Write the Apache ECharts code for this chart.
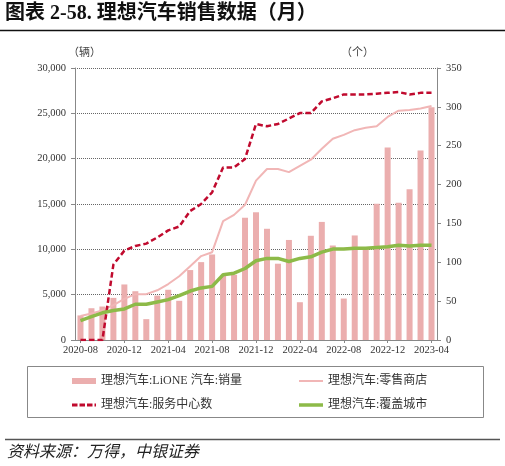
<!DOCTYPE html>
<html>
<head>
<meta charset="utf-8">
<script src="https://cdn.jsdelivr.net/npm/echarts@6/dist/echarts.min.js"></script>
<style>
html,body{margin:0;padding:0;background:#fff;}
#chart{width:505px;height:466px;}
</style>
</head>
<body>
<div id="chart"></div>
<script>
var months = ['2020-08','2020-09','2020-10','2020-11','2020-12','2021-01','2021-02','2021-03','2021-04','2021-05','2021-06','2021-07','2021-08','2021-09','2021-10','2021-11','2021-12','2022-01','2022-02','2022-03','2022-04','2022-05','2022-06','2022-07','2022-08','2022-09','2022-10','2022-11','2022-12','2023-01','2023-02','2023-03','2023-04'];
var sales = [2711,3504,3692,4646,6126,5379,2300,4900,5539,4323,7713,8589,9433,7094,7200,13485,14087,12268,8414,11034,4167,11496,13024,10422,4571,11531,10052,15034,21233,15141,16620,20906,25681];
var retailStores = [31,34,38,45,53,59,59,64,72,82,95,108,113,153,161,174,205,220,220,216,224,232,246,259,264,270,273,275,287,295,296,298,301];
var serviceCenters = [0,0,0,97,115,121,124,132,141,146,166,175,190,222,222,233,278,275,278,285,292,292,307,311,316,316,316,317,318,319,316,318,318];
var coveredCities = [25,30,35,38,40,46,46,49,52,57,63,67,69,84,86,92,102,105,105,101,105,107,113,117,117,118,118,119,120,122,121,122,122];
var leftTicks = {min:0, max:30000, interval:5000};
var rightTicks = {min:0, max:350, interval:50};
var names = ['理想汽车:LiONE 汽车:销量','理想汽车:零售商店','理想汽车:服务中心数','理想汽车:覆盖城市'];

var serif = "'Liberation Serif','Noto Sans CJK SC'";
var colors = {bar:'#EBAEAE', retail:'#F1B6B6', service:'#C00A2E', cities:'#8DBA48'};
var icons = [
  'path://M0,0h24v6h-24z',
  'path://M0,0h24v2h-24z',
  'path://M0,0h5.5v3h-5.5z M7.5,0h5.5v3h-5.5z M15,0h5.5v3h-5.5z M22.5,0h1.5v3h-1.5z',
  'path://M0,0h24v3.5h-24z'
];
var iconColors = [colors.bar, colors.retail, colors.service, colors.cities];
var chart = echarts.init(document.getElementById('chart'), null, {renderer:'canvas'});
function legendAt(i, left, top){
  return {data:[{name:names[i], icon:icons[i], itemStyle:{color:iconColors[i]}}], left:left, top:top,
    itemWidth:24, itemHeight:6, itemGap:10, symbolKeepAspect:true,
    textStyle:{fontFamily:serif, fontSize:12, color:'#333', lineHeight:14}, padding:0};
}
var option = {
  animation:false,
  backgroundColor:'#fff',
  title:{text:'图表 2-58. 理想汽车销售数据（月）', left:5, top:4,
    textStyle:{fontFamily:serif, fontSize:20, fontWeight:'bold', color:'#111'}, padding:0},
  grid:{left:75, right:68, top:68, bottom:126, containLabel:false},
  legend:[
    legendAt(0, 72, 374),
    legendAt(1, 299, 374),
    legendAt(2, 72, 398),
    legendAt(3, 299, 398)
  ],
  xAxis:{type:'category', data:months, boundaryGap:true,
    axisLine:{lineStyle:{color:'#888', width:1}},
    axisTick:{show:true, alignWithLabel:true, interval:3, length:3, lineStyle:{color:'#888'}},
    axisLabel:{interval:3, fontFamily:serif, fontSize:10.5, color:'#333', margin:5}},
  yAxis:[
    {type:'value', min:leftTicks.min, max:leftTicks.max, interval:leftTicks.interval, position:'left',
      axisLine:{show:true, lineStyle:{color:'#888'}},
      axisTick:{show:true, length:4, lineStyle:{color:'#888'}},
      axisLabel:{fontFamily:serif, fontSize:10.5, color:'#333', margin:9,
        formatter:function(v){return v.toLocaleString('en-US');}},
      splitLine:{show:true, lineStyle:{color:'#666', type:[1,1], width:1}}},
    {type:'value', min:rightTicks.min, max:rightTicks.max, interval:rightTicks.interval, position:'right',
      axisLine:{show:true, lineStyle:{color:'#888'}},
      axisTick:{show:true, length:4, lineStyle:{color:'#888'}},
      axisLabel:{fontFamily:serif, fontSize:10.5, color:'#333', margin:9},
      splitLine:{show:false}}
  ],
  series:[
    {name:names[0], type:'bar', yAxisIndex:0, data:sales, barWidth:6,
      itemStyle:{color:colors.bar}},
    {name:names[1], type:'line', yAxisIndex:1, data:retailStores, symbol:'none',
      lineStyle:{color:colors.retail, width:2}, itemStyle:{color:colors.retail}},
    {name:names[2], type:'line', yAxisIndex:1, data:serviceCenters, symbol:'none',
      lineStyle:{color:colors.service, width:2.5, type:[5.5,3]}, itemStyle:{color:colors.service}},
    {name:names[3], type:'line', yAxisIndex:1, data:coveredCities, symbol:'none',
      lineStyle:{color:colors.cities, width:3.5}, itemStyle:{color:colors.cities}}
  ],
  graphic:[
    {type:'line', shape:{x1:0, y1:30.5, x2:505, y2:30.5}, style:{stroke:'#111', lineWidth:1.5}},
    {type:'text', left:68, top:46, style:{text:'（辆）', font:"11px 'Noto Sans CJK SC'", fill:'#444'}},
    {type:'text', left:341, top:46, style:{text:'（个）', font:"11px 'Noto Sans CJK SC'", fill:'#444'}},
    {type:'rect', shape:{x:27.5, y:366.5, width:456, height:51}, style:{fill:'none', stroke:'#888', lineWidth:1}},
    {type:'line', shape:{x1:5, y1:439.5, x2:500, y2:439.5}, style:{stroke:'#555', lineWidth:1.5}},
    {type:'text', left:7, top:443, style:{text:'资料来源：万得，中银证券', font:"italic 16px 'Noto Sans CJK SC'", fill:'#222'}}
  ]
};
chart.setOption(option);
</script>
</body>
</html>
